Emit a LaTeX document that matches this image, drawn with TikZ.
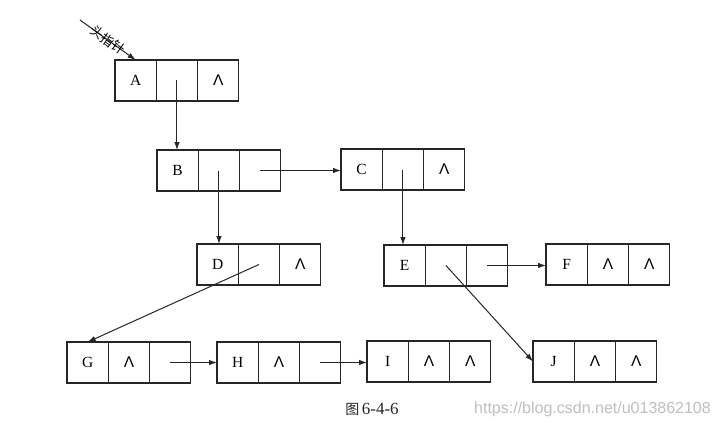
\documentclass[tikz,border=0pt]{standalone}
\usepackage{fontspec}
\setmainfont{Liberation Serif}
\newfontfamily\cjk{Noto Sans CJK SC}
\newfontfamily\sansfont{Liberation Sans}
\usetikzlibrary{arrows.meta}
\newcommand\nul{{\sansfont\fontsize{15.5}{15.5}\selectfont Λ}}
\newcommand\lnode[6]{%
  \node[cell, anchor=north west] (#1a) at (#2,#3) {#4};
  \node[cell, anchor=west] (#1b) at (#1a.east) {#5};
  \node[cell, anchor=west] (#1c) at (#1b.east) {#6};
}
\begin{document}
\begin{tikzpicture}[x=1pt,y=-1pt,
  cell/.style={draw=black!85, line width=1.1pt, minimum width=41.3pt, minimum height=41pt,
    inner sep=0pt, outer sep=0pt, font=\fontsize{15.5}{15.5}\selectfont, text=black},
  ptr/.style={draw=black!85, line width=1pt, -{Latex[length=8pt,width=5.5pt]}}]
\useasboundingbox[fill=white] (0,0) rectangle (718,428);
\lnode{A}{115}{60}{A}{}{\nul}
\lnode{B}{157}{150}{B}{}{}
\lnode{C}{341}{149}{C}{}{\nul}
\lnode{D}{197}{244}{D}{}{\nul}
\lnode{E}{384}{245}{E}{}{}
\lnode{F}{546}{244}{F}{\nul}{\nul}
\lnode{G}{67}{342}{G}{\nul}{}
\lnode{H}{217}{342}{H}{\nul}{}
\lnode{I}{367}{341}{I}{\nul}{\nul}
\lnode{J}{533}{341}{J}{\nul}{\nul}
% head pointer
\coordinate (head) at (80,20);
\draw[ptr] (head) -- node[sloped, font=\cjk\fontsize{13}{13}\selectfont, inner sep=0pt, pos=0.5] (hl) {头指针} (Aa.north);
% links
\draw[ptr] (Ab.center) -- (Ab.center |- Ba.north);
\draw[ptr] (Bb.center) -- (Bb.center |- Da.north);
\draw[ptr] (Cb.center) -- (Cb.center |- Ea.north);
\draw[ptr] (Bc.center) -- (Bc.center -| Ca.west);
\draw[ptr] (Db.center) -- (Ga.north);
\draw[ptr] (Ec.center) -- (Ec.center -| Fa.west);
\draw[ptr] (Eb.center) -- (Ja.west);
\draw[ptr] (Gc.center) -- (Gc.center -| Ha.west);
\draw[ptr] (Hc.center) -- (Hc.center -| Ia.west);
% caption
\node[text=black!85, inner sep=0pt] (cap) at (372,409) {{\cjk\fontsize{14}{14}\selectfont 图}\ {\fontsize{17}{17}\selectfont 6-4-6}};
\node[font=\sansfont\fontsize{16}{16}\selectfont, text=black!25, anchor=east, inner sep=0pt] (wm) at (711,409) {https://blog.csdn.net/u013862108};
\end{tikzpicture}
\end{document}
